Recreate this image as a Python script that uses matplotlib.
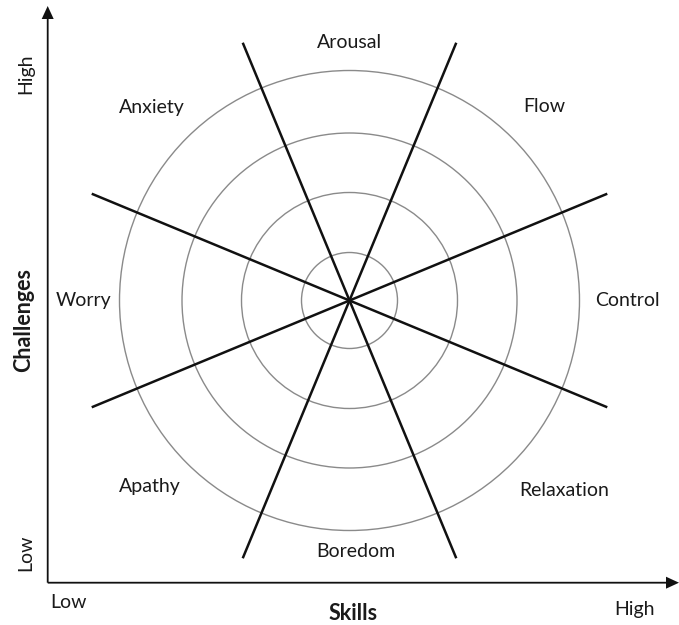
import numpy as np
import matplotlib
matplotlib.use("Agg")
import matplotlib.pyplot as plt
from matplotlib.patches import Circle, FancyArrow

# ---- data ----
sector_labels = ["Control", "Flow", "Arousal", "Anxiety", "Worry", "Apathy", "Boredom", "Relaxation"]
sector_angles = [0, 45, 90, 135.6, 180, 223, 271.4, 318.5]     # degrees, counter-clockwise from +skills
label_dist = [277.5, 275, 258, 276.5, 266, 273, 251, 286]       # distance of label from centre
circle_radii = [48, 108, 167.5, 230]
divider_angles = [22.5, 67.5, 112.5, 157.5]
divider_half_len = 279
x_axis_label = "Skills"
y_axis_label = "Challenges"
x_ticks = ["Low", "High"]
y_ticks = ["Low", "High"]

W, H = 679, 625
fig = plt.figure(figsize=(W / 100, H / 100), dpi=100)
ax = fig.add_axes([0, 0, 1, 1])
ax.set_xlim(0, W)
ax.set_ylim(H, 0)
ax.set_aspect("equal")
ax.axis("off")

font = "Lato"
tc = "#1a1a1a"
cx, cy = 349.5, 300.5
fs = 14

for r in circle_radii:
    ax.add_patch(Circle((cx, cy), r, fill=False, ec="#8a8a8a", lw=1.0))

for a in divider_angles:
    t = np.deg2rad(a)
    dx, dy = divider_half_len * np.cos(t), -divider_half_len * np.sin(t)
    ax.plot([cx - dx, cx + dx], [cy - dy, cy + dy], color="#111111", lw=1.8, solid_capstyle="butt")

for lab, a, d in zip(sector_labels, sector_angles, label_dist):
    t = np.deg2rad(a)
    ax.text(cx + d * np.cos(t), cy - d * np.sin(t), lab, ha="center", va="center",
            fontsize=fs, family=font, color=tc)

# axes with arrows
ox, oy = 47.7, 582.7
ax.add_patch(FancyArrow(ox, oy, W - ox, 0, width=1.8, head_width=12, head_length=13,
                        length_includes_head=True, color="#111111", lw=0))
ax.add_patch(FancyArrow(ox, oy, 0, 6 - oy, width=1.8, head_width=12, head_length=13,
                        length_includes_head=True, color="#111111", lw=0))

ax.text(353, 614, x_axis_label, ha="center", va="center", fontsize=15.5, fontweight="bold",
        family=font, color=tc)
ax.text(24, 320, y_axis_label, ha="center", va="center", fontsize=15.5, fontweight="bold",
        family=font, color=tc, rotation=90)

ax.text(69, 602, x_ticks[0], ha="center", va="center", fontsize=fs, family=font, color=tc)
ax.text(634, 610, x_ticks[1], ha="center", va="center", fontsize=fs, family=font, color=tc)
ax.text(26, 553, y_ticks[0], ha="center", va="center", fontsize=fs, family=font, color=tc, rotation=90)
ax.text(26, 74, y_ticks[1], ha="center", va="center", fontsize=fs, family=font, color=tc, rotation=90)

fig.savefig("out.png", dpi=100)
